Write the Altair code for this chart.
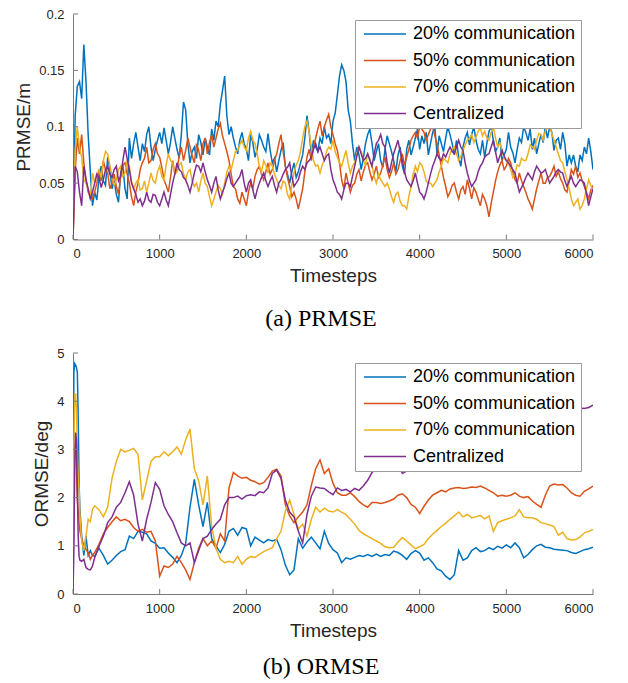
import altair as alt
import pandas as pd

NAMES = ["20% communication", "50% communication", "70% communication", "Centralized"]
COLORS = ["#0072BD", "#D95319", "#EDB120", "#7E2F8E"]
X_TICKS = [0, 1000, 2000, 3000, 4000, 5000, 6000]

# ---------------- (a) PRMSE ----------------
T_TOP = [0, 25, 50, 75, 100, 125, 150, 175, 200, 225] + list(range(250, 6001, 50))
P20_TOP = [0.0, 0.11, 0.136, 0.14, 0.125, 0.173, 0.14, 0.093, 0.06, 0.03,
           0.042, 0.055, 0.052, 0.073, 0.045, 0.04, 0.059, 0.045, 0.09, 0.085,
           0.082, 0.085, 0.093, 0.082, 0.08, 0.095, 0.099, 0.076, 0.1, 0.08,
           0.093, 0.115, 0.068, 0.082, 0.093, 0.075, 0.082, 0.098, 0.105, 0.12,
           0.145, 0.093, 0.09, 0.076, 0.095, 0.08, 0.093, 0.073, 0.093, 0.082,
           0.094, 0.068, 0.06, 0.079, 0.065, 0.05, 0.068, 0.06, 0.075, 0.11,
           0.076, 0.082, 0.09, 0.1, 0.093, 0.105, 0.128, 0.155, 0.14, 0.105,
           0.07, 0.075, 0.072, 0.093, 0.085, 0.078, 0.07, 0.08, 0.085, 0.07,
           0.075, 0.065, 0.08, 0.075, 0.09, 0.08, 0.085, 0.075, 0.095, 0.076,
           0.085, 0.09, 0.093, 0.075, 0.073, 0.082, 0.095, 0.093, 0.088, 0.076,
           0.073, 0.096, 0.088, 0.082, 0.07, 0.08, 0.082, 0.068, 0.09, 0.1,
           0.088, 0.08, 0.076, 0.093, 0.1, 0.1, 0.079, 0.09, 0.095, 0.065,
           0.068, 0.065, 0.075, 0.082, 0.09, 0.062]
P50_TOP = [0.0, 0.06, 0.09, 0.076, 0.093, 0.068, 0.053, 0.042, 0.038, 0.036,
           0.042, 0.062, 0.07, 0.059, 0.05, 0.047, 0.056, 0.068, 0.05, 0.03,
           0.05, 0.068, 0.082, 0.07, 0.085, 0.073, 0.053, 0.042, 0.07, 0.062,
           0.082, 0.079, 0.082, 0.068, 0.079, 0.085, 0.076, 0.093, 0.09, 0.103,
           0.085, 0.07, 0.047, 0.036, 0.042, 0.03, 0.05, 0.056, 0.065, 0.053,
           0.068, 0.062, 0.076, 0.093, 0.065, 0.047, 0.042, 0.027, 0.045, 0.073,
           0.07, 0.09, 0.105, 0.1, 0.111, 0.093, 0.079, 0.053, 0.059, 0.042,
           0.05, 0.062, 0.06, 0.068, 0.053, 0.065, 0.059, 0.073, 0.055, 0.068,
           0.062, 0.076, 0.073, 0.088, 0.095, 0.1, 0.095, 0.093, 0.1, 0.085,
           0.065, 0.047, 0.042, 0.05, 0.036, 0.047, 0.053, 0.036, 0.042, 0.03,
           0.036, 0.02, 0.042, 0.06, 0.07, 0.065, 0.068, 0.053, 0.059, 0.047,
           0.036, 0.027, 0.045, 0.059, 0.05, 0.056, 0.065, 0.06, 0.05, 0.042,
           0.062, 0.065, 0.059, 0.047, 0.036, 0.048]
P70_TOP = [0.0, 0.08, 0.1, 0.082, 0.073, 0.053, 0.05, 0.045, 0.036, 0.059,
           0.05, 0.062, 0.07, 0.076, 0.056, 0.053, 0.065, 0.059, 0.065, 0.045,
           0.053, 0.045, 0.042, 0.059, 0.05, 0.065, 0.053, 0.076, 0.068, 0.06,
           0.068, 0.053, 0.062, 0.047, 0.042, 0.059, 0.047, 0.03, 0.042, 0.045,
           0.05, 0.065, 0.07, 0.079, 0.088, 0.079, 0.096, 0.085, 0.065, 0.07,
           0.059, 0.065, 0.053, 0.045, 0.05, 0.036, 0.059, 0.07, 0.09, 0.105,
           0.082, 0.065, 0.059, 0.07, 0.082, 0.088, 0.073, 0.065, 0.079, 0.059,
           0.068, 0.082, 0.07, 0.076, 0.065, 0.05, 0.053, 0.047, 0.045, 0.033,
           0.042, 0.03, 0.027, 0.047, 0.065, 0.068, 0.06, 0.05, 0.047, 0.053,
           0.065, 0.07, 0.076, 0.082, 0.07, 0.079, 0.088, 0.093, 0.091, 0.099,
           0.096, 0.088, 0.1, 0.082, 0.079, 0.07, 0.062, 0.059, 0.065, 0.07,
           0.076, 0.082, 0.088, 0.093, 0.096, 0.1, 0.088, 0.076, 0.068, 0.053,
           0.036, 0.033, 0.027, 0.036, 0.053, 0.042]
CEN_TOP = [0.0, 0.065, 0.06, 0.042, 0.03, 0.065, 0.053, 0.045, 0.036, 0.042,
           0.05, 0.055, 0.053, 0.065, 0.055, 0.065, 0.056, 0.082, 0.062, 0.045,
           0.033, 0.03, 0.042, 0.033, 0.039, 0.03, 0.042, 0.03, 0.05, 0.068,
           0.06, 0.053, 0.042, 0.059, 0.065, 0.068, 0.053, 0.042, 0.056, 0.036,
           0.047, 0.059, 0.047, 0.053, 0.062, 0.042, 0.053, 0.036, 0.05, 0.059,
           0.047, 0.056, 0.042, 0.053, 0.062, 0.068, 0.047, 0.053, 0.065, 0.068,
           0.073, 0.085, 0.082, 0.07, 0.076, 0.053, 0.042, 0.036, 0.05, 0.047,
           0.065, 0.082, 0.07, 0.076, 0.065, 0.085, 0.093, 0.082, 0.059, 0.076,
           0.088, 0.07, 0.053, 0.047, 0.059, 0.042, 0.036, 0.05, 0.065, 0.076,
           0.07, 0.073, 0.082, 0.076, 0.088, 0.079, 0.059, 0.047, 0.053, 0.065,
           0.073, 0.076, 0.088, 0.068, 0.079, 0.07, 0.065, 0.059, 0.042, 0.05,
           0.059, 0.053, 0.065, 0.059, 0.062, 0.05, 0.056, 0.062, 0.059, 0.047,
           0.056, 0.047, 0.053, 0.05, 0.03, 0.045]

# in-between readings of the jagged traces (t = 275, 325, ..., 5975)
T_TOP_MID = list(range(275, 5976, 50))
P20_TOP_MID = [0.035, 0.065, 0.048, 0.062, 0.052, 0.033, 0.066, 0.036, 0.072, 0.095,
               0.07, 0.078, 0.1, 0.07, 0.088, 0.085, 0.088, 0.086, 0.09, 0.072,
               0.122, 0.085, 0.078, 0.072, 0.086, 0.09, 0.075, 0.088, 0.1, 0.132,
               0.11, 0.1, 0.082, 0.088, 0.085, 0.07, 0.086, 0.08, 0.088, 0.078,
               0.079, 0.072, 0.07, 0.086, 0.058, 0.06, 0.055, 0.068, 0.09, 0.095,
               0.088, 0.078, 0.085, 0.09, 0.085, 0.112, 0.145, 0.15, 0.115, 0.085,
               0.082, 0.062, 0.085, 0.098, 0.07, 0.085, 0.064, 0.092, 0.078, 0.06,
               0.082, 0.058, 0.088, 0.082, 0.098, 0.092, 0.095, 0.085, 0.1, 0.092,
               0.078, 0.1, 0.085, 0.088, 0.065, 0.09, 0.084, 0.1, 0.08, 0.088,
               0.085, 0.1, 0.078, 0.09, 0.075, 0.095, 0.077, 0.08, 0.086, 0.095,
               0.098, 0.09, 0.085, 0.086, 0.09, 0.095, 0.088, 0.08, 0.085, 0.075,
               0.075, 0.06, 0.07, 0.076, 0.078]
P50_TOP_MID = [0.05, 0.052, 0.062, 0.045, 0.058, 0.04, 0.066, 0.058, 0.038, 0.042,
               0.062, 0.072, 0.068, 0.08, 0.076, 0.064, 0.048, 0.055, 0.058, 0.074,
               0.07, 0.09, 0.074, 0.085, 0.07, 0.09, 0.086, 0.082, 0.098, 0.092,
               0.078, 0.058, 0.045, 0.032, 0.036, 0.042, 0.045, 0.062, 0.058, 0.06,
               0.058, 0.07, 0.085, 0.078, 0.055, 0.038, 0.036, 0.036, 0.06, 0.08,
               0.082, 0.098, 0.092, 0.106, 0.1, 0.085, 0.068, 0.045, 0.05, 0.048,
               0.058, 0.052, 0.066, 0.06, 0.058, 0.055, 0.066, 0.062, 0.06, 0.058,
               0.07, 0.066, 0.08, 0.092, 0.09, 0.098, 0.088, 0.098, 0.092, 0.075,
               0.055, 0.038, 0.048, 0.042, 0.044, 0.04, 0.045, 0.046, 0.036, 0.04,
               0.03, 0.032, 0.052, 0.066, 0.062, 0.072, 0.06, 0.05, 0.052, 0.042,
               0.032, 0.036, 0.052, 0.05, 0.055, 0.06, 0.056, 0.054, 0.044, 0.052,
               0.058, 0.055, 0.052, 0.042, 0.044]
P70_TOP_MID = [0.058, 0.055, 0.078, 0.066, 0.048, 0.062, 0.056, 0.07, 0.052, 0.05,
               0.044, 0.052, 0.05, 0.052, 0.06, 0.056, 0.066, 0.07, 0.058, 0.066,
               0.058, 0.06, 0.052, 0.05, 0.052, 0.05, 0.038, 0.036, 0.048, 0.04,
               0.06, 0.062, 0.078, 0.084, 0.082, 0.09, 0.088, 0.076, 0.06, 0.066,
               0.068, 0.058, 0.048, 0.052, 0.04, 0.048, 0.066, 0.078, 0.1, 0.095,
               0.07, 0.066, 0.066, 0.078, 0.08, 0.078, 0.068, 0.072, 0.068, 0.065,
               0.076, 0.078, 0.066, 0.072, 0.056, 0.058, 0.05, 0.05, 0.038, 0.04,
               0.034, 0.03, 0.038, 0.058, 0.06, 0.066, 0.052, 0.05, 0.05, 0.06,
               0.072, 0.068, 0.08, 0.076, 0.074, 0.084, 0.09, 0.086, 0.096, 0.092,
               0.09, 0.095, 0.09, 0.086, 0.072, 0.068, 0.055, 0.066, 0.072, 0.07,
               0.084, 0.08, 0.094, 0.088, 0.1, 0.094, 0.082, 0.07, 0.06, 0.045,
               0.03, 0.036, 0.03, 0.045, 0.048]
CEN_TOP_MID = [0.058, 0.046, 0.062, 0.058, 0.062, 0.052, 0.07, 0.072, 0.05, 0.04,
               0.036, 0.034, 0.035, 0.04, 0.033, 0.036, 0.035, 0.04, 0.058, 0.062,
               0.055, 0.048, 0.05, 0.066, 0.06, 0.06, 0.048, 0.05, 0.044, 0.042,
               0.054, 0.05, 0.05, 0.056, 0.05, 0.05, 0.044, 0.044, 0.055, 0.052,
               0.052, 0.048, 0.05, 0.058, 0.064, 0.056, 0.05, 0.06, 0.062, 0.07,
               0.08, 0.078, 0.076, 0.074, 0.062, 0.048, 0.04, 0.044, 0.05, 0.056,
               0.074, 0.076, 0.072, 0.07, 0.076, 0.088, 0.085, 0.068, 0.068, 0.082,
               0.078, 0.06, 0.05, 0.052, 0.05, 0.04, 0.042, 0.058, 0.07, 0.072,
               0.076, 0.078, 0.078, 0.082, 0.082, 0.068, 0.052, 0.05, 0.06, 0.068,
               0.075, 0.082, 0.078, 0.074, 0.074, 0.068, 0.062, 0.05, 0.046, 0.055,
               0.056, 0.06, 0.062, 0.06, 0.056, 0.053, 0.06, 0.06, 0.052, 0.052,
               0.05, 0.05, 0.052, 0.04, 0.038]

# ---------------- (b) ORMSE ----------------
T_BOT = [0, 10, 20, 30, 40, 50, 60, 70, 80, 100, 125, 150, 175, 200, 225] + list(range(250, 6001, 50))
O20_BOT = [1.2, 4.6, 4.78, 4.75, 4.7, 4.6, 3.7, 2.3, 1.75, 1.2, 0.8, 1.2, 0.8, 0.9, 0.8,
           0.78, 0.95, 0.8, 0.62, 0.7, 0.8, 0.88, 0.92, 1.2, 1.15,
           1.3, 1.28, 1.25, 1.1, 1.05, 0.95, 0.96, 0.85, 0.76, 0.65,
           0.8, 1.05, 1.8, 2.38, 1.85, 1.4, 1.9, 1.15, 1.0, 0.86,
           1.03, 1.3, 1.36, 1.22, 1.38, 1.35, 1.0, 1.18, 1.12, 1.06,
           1.13, 1.1, 1.13, 0.92, 0.6, 0.4, 0.5, 1.15, 0.95, 1.08,
           1.18, 1.06, 0.94, 1.3, 1.05, 0.92, 0.85, 0.65, 0.75, 0.72,
           0.76, 0.8, 0.78, 0.82, 0.78, 0.83, 0.78, 0.82, 0.8, 0.89,
           0.86, 0.8, 0.72, 0.84, 0.9, 0.85, 0.7, 0.75, 0.65, 0.52,
           0.48, 0.37, 0.3, 0.4, 0.9, 0.7, 0.75, 0.9, 0.96, 0.88,
           0.9, 0.96, 0.92, 0.99, 0.95, 1.02, 0.96, 1.06, 0.96, 0.75,
           0.82, 0.92, 1.0, 1.03, 0.97, 0.96, 0.93, 0.92, 0.91, 0.9,
           0.86, 0.84, 0.88, 0.92, 0.94, 0.97]
O50_BOT = [0.3, 2.5, 3.1, 3.05, 2.6, 1.97, 1.7, 1.48, 1.3, 1.15, 1.0, 0.92, 0.86, 0.72, 0.8,
           0.86, 1.03, 1.25, 1.38, 1.5, 1.6, 1.52, 1.55, 1.5, 1.38,
           1.3, 1.34, 1.28, 1.3, 1.1, 0.37, 0.58, 0.55, 0.62, 0.78,
           0.65, 0.5, 0.3, 0.65, 0.95, 1.15, 1.0, 1.1, 0.95, 1.25,
           1.1, 2.2, 2.52, 2.45, 2.4, 2.42, 2.36, 2.33, 2.28, 2.31,
           2.42, 2.55, 2.59, 2.45, 1.85, 1.62, 1.48, 1.6, 1.7, 1.85,
           2.25, 2.6, 2.78, 2.5, 2.6, 2.3, 2.1, 2.05, 2.05, 2.1,
           2.02, 1.92, 1.85, 1.8, 1.9, 1.9, 1.88, 1.9, 1.93, 1.97,
           2.05, 2.08, 2.0, 1.86, 1.8, 1.67, 1.82, 1.95, 2.05, 2.1,
           2.15, 2.12, 2.18, 2.2, 2.21, 2.19, 2.2, 2.22, 2.21, 2.24,
           2.2, 2.15, 2.1, 2.03, 2.05, 2.03, 2.05, 2.1, 2.03, 2.0,
           2.02, 1.93, 1.86, 1.8, 2.05, 2.24, 2.28, 2.26, 2.27, 2.2,
           2.1, 2.05, 2.03, 2.13, 2.18, 2.24]
O70_BOT = [0.5, 3.0, 4.15, 4.15, 3.8, 3.0, 2.38, 2.2, 1.62, 1.1, 0.9, 1.2, 1.55, 1.5, 1.76,
           1.83, 1.75, 1.6, 1.8, 2.4, 2.75, 3.0, 2.95, 2.98, 3.02,
           2.9, 1.95, 2.35, 2.75, 2.85, 2.85, 2.95, 2.87, 2.95, 3.05,
           2.9, 3.2, 3.42, 2.6, 2.35, 1.85, 2.45, 1.4, 0.95, 0.72,
           0.65, 0.68, 0.65, 0.78, 0.62, 0.72, 0.78, 0.76, 0.82, 0.88,
           0.92, 0.96, 1.15, 1.3, 1.72, 1.95, 1.65, 1.35, 1.45, 1.2,
           1.55, 1.8, 1.7, 1.78, 1.72, 1.7, 1.75, 1.7, 1.65, 1.55,
           1.45, 1.32, 1.25, 1.2, 1.15, 1.1, 1.05, 0.98, 0.96, 0.97,
           1.08, 1.17, 1.1, 1.02, 0.94, 0.98, 1.03, 1.15, 1.24, 1.32,
           1.4, 1.47, 1.55, 1.62, 1.7, 1.6, 1.65, 1.58, 1.6, 1.63,
           1.56, 1.62, 1.3, 1.48, 1.52, 1.55, 1.58, 1.62, 1.75, 1.6,
           1.58, 1.58, 1.55, 1.48, 1.46, 1.43, 1.4, 1.22, 1.28, 1.15,
           1.12, 1.13, 1.18, 1.27, 1.3, 1.34]
OCEN_BOT = [0.0, 0.9, 2.6, 3.35, 3.2, 2.17, 1.2, 0.78, 0.7, 0.68, 0.72, 0.55, 0.51, 0.5, 0.58,
            0.75, 0.99, 1.2, 1.48, 1.6, 1.8, 1.9, 2.1, 2.33, 2.05,
            1.45, 1.1, 1.55, 1.9, 2.31, 2.17, 1.83, 1.65, 1.5, 1.27,
            1.06, 1.0, 1.06, 0.65, 0.9, 1.15, 1.2, 1.34, 1.45, 1.55,
            1.85, 2.0, 2.0, 2.03, 1.97, 2.04, 2.06, 2.04, 2.12, 2.1,
            2.2, 2.5, 2.57, 2.4, 1.95, 1.7, 1.6, 1.3, 1.06, 1.65,
            2.03, 2.22, 2.2, 2.19, 2.12, 2.06, 2.2, 2.15, 2.17, 2.12,
            2.19, 2.15, 2.24, 2.36, 2.52, 2.6, 2.64, 2.62, 2.66, 2.68,
            2.75, 2.5, 2.55, 2.75, 2.85, 2.95, 3.0, 3.05, 3.1, 3.15,
            3.12, 3.2, 3.25, 3.3, 3.28, 3.35, 3.4, 3.45, 3.42, 3.5,
            3.55, 3.6, 3.58, 3.62, 3.65, 3.7, 3.68, 3.72, 3.75, 3.78,
            3.76, 3.8, 3.82, 3.8, 3.84, 3.86, 3.83, 3.85, 3.87, 3.84,
            3.86, 3.85, 3.86, 3.85, 3.87, 3.92]

TOP_Y_TICKS = [0, 0.05, 0.1, 0.15, 0.2]
BOT_Y_TICKS = [0, 1, 2, 3, 4, 5]

AX = "#7a7a7a"
TXT = "#262626"


def long_df(parts):
    rows = []
    for t, series in parts:
        for name, vals in zip(NAMES, series):
            assert len(vals) == len(t), (name, len(vals), len(t))
            for tt, vv in zip(t, vals):
                rows.append({"t": tt, "v": vv, "s": name})
    return pd.DataFrame(rows).sort_values(["s", "t"], kind="stable")


def panel(df, ytitle, ydom, yticks, yfmt, height, caption, legend_y, cap_offset):
    X = alt.X("t:Q", scale=alt.Scale(domain=[0, 6000], nice=False),
              axis=alt.Axis(values=X_TICKS, format="d", title="Timesteps"))
    Y = alt.Y("v:Q", scale=alt.Scale(domain=ydom, nice=False, zero=False),
              axis=alt.Axis(values=yticks, format=yfmt, title=ytitle))
    lines = alt.Chart(df).mark_line(strokeWidth=1.5, clip=True).encode(
        x=X, y=Y,
        color=alt.Color("s:N", scale=alt.Scale(domain=NAMES, range=COLORS),
                        legend=alt.Legend(title=None, orient="none", legendX=282, legendY=legend_y,
                                          direction="vertical", symbolType="M-1,0H7.4", symbolSize=100,
                                          symbolStrokeWidth=1.5, labelFont="Liberation Sans",
                                          labelFontSize=18, labelColor="black", labelOffset=35,
                                          labelLimit=0, padding=5, rowPadding=8.5, fillColor="white",
                                          strokeColor="#9a9a9a")),
        detail="s:N",
    )
    xt = alt.Chart(pd.DataFrame({"t": X_TICKS})).mark_rule(color=AX, strokeWidth=1).encode(
        x=X, y=alt.value(height), y2=alt.value(height - 5))
    yt = alt.Chart(pd.DataFrame({"v": yticks})).mark_rule(color=AX, strokeWidth=1).encode(
        y=Y, x=alt.value(0), x2=alt.value(5))
    return alt.layer(lines, xt, yt).properties(
        width=520, height=height,
        title=alt.TitleParams(caption, orient="bottom", font="Liberation Serif", fontSize=24,
                              fontWeight="normal", color="black", offset=cap_offset, frame="group",
                              anchor="middle", dx=-12),
    )


top = panel(long_df([(T_TOP, [P20_TOP, P50_TOP, P70_TOP, CEN_TOP]),
                     (T_TOP_MID, [P20_TOP_MID, P50_TOP_MID, P70_TOP_MID, CEN_TOP_MID])]),
            "PRMSE/m", [0, 0.2], TOP_Y_TICKS, "~g", 225.5, "(a) PRMSE", 6, 21)
bot = panel(long_df([(T_BOT, [O20_BOT, O50_BOT, O70_BOT, OCEN_BOT])]),
            "ORMSE/deg", [0, 5], BOT_Y_TICKS, "d", 241, "(b) ORMSE", 10, 15)

chart = alt.vconcat(top, bot, spacing=16).resolve_scale(color="independent").resolve_legend(
    color="independent"
).properties(
    padding={"left": 6, "top": 0, "right": 5, "bottom": 0}
).configure_view(stroke=None).configure_axis(
    domainColor=AX, domainWidth=1, labelColor=TXT, labelFont="Liberation Sans", labelFontSize=13,
    titleFont="Liberation Sans", titleFontSize=19, titleFontWeight="normal", titleColor=TXT,
    grid=False, ticks=False, labelPadding=8, titlePadding=6,
).configure_axisY(labelPadding=9, titlePadding=5)

chart.save("out.html", embed_options={"renderer": "svg", "actions": False})
